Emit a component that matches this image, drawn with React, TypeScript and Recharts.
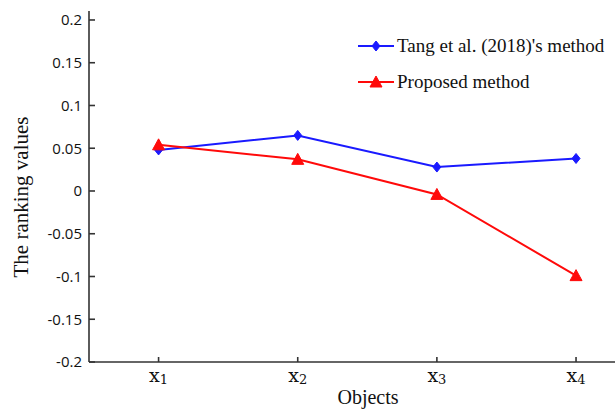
import { LineChart, Line, XAxis, YAxis, Legend } from "recharts";

const objects = ["1", "2", "3", "4"];
const tangValues = [0.048, 0.065, 0.028, 0.038];
const proposedValues = [0.054, 0.037, -0.004, -0.099];
const yTicks = [-0.2, -0.15, -0.1, -0.05, 0, 0.05, 0.1, 0.15, 0.2];

const data = objects.map((o, i) => ({ x: i + 1, name: o, tang: tangValues[i], proposed: proposedValues[i] }));

const BLUE = "#1a1aff";
const RED = "#ff0a0a";
const AXIS = "#333";

function Diamond({ cx, cy, color }: { cx: number; cy: number; color: string }) {
  return <path d={`M${cx},${cy - 5}L${cx + 4},${cy}L${cx},${cy + 5}L${cx - 4},${cy}Z`} fill={color} stroke={color} />;
}

function Triangle({ cx, cy, color }: { cx: number; cy: number; color: string }) {
  return <path d={`M${cx},${cy - 6}L${cx + 6},${cy + 5}L${cx - 6},${cy + 5}Z`} fill={color} stroke={color} />;
}

const XTick = ({ x, y, payload }: any) => (
  <text x={x} y={y} textAnchor="middle" fontFamily="DejaVu Serif" fill="#111">
    <tspan fontSize={19} dy={19}>x</tspan>
    <tspan fontSize={13} dy={2}>{objects[payload.value - 1]}</tspan>
  </text>
);

const LegendBox = () => (
  <div style={{ fontFamily: "Liberation Serif", fontSize: 19, color: "#111" }}>
    {[
      { label: "Tang et al. (2018)'s method", color: BLUE, shape: "d" },
      { label: "Proposed method", color: RED, shape: "t" },
    ].map((it) => (
      <div key={it.label} style={{ display: "flex", alignItems: "center", height: 36 }}>
        <svg width={42} height={20}>
          <line x1={3} x2={39} y1={10} y2={10} stroke={it.color} strokeWidth={2} />
          {it.shape === "d" ? <Diamond cx={21} cy={10} color={it.color} /> : <Triangle cx={21} cy={10} color={it.color} />}
        </svg>
        <span>{it.label}</span>
      </div>
    ))}
  </div>
);

export default function App() {
  return (
    <div style={{ position: "fixed", left: 0, top: 0, width: 615, height: 411, background: "#fff" }}>
      <LineChart width={615} height={411} data={data} margin={{ top: 11, right: 0, left: 0, bottom: 0 }}>
        <XAxis
          dataKey="x"
          type="number"
          domain={[0.5, 4.28]}
          ticks={[1, 2, 3, 4]}
          allowDataOverflow
          height={49}
          tickSize={-5}
          tickMargin={6}
          stroke={AXIS}
          strokeWidth={1.6}
          tick={<XTick />}
          label={() => (
            <text x={368} y={404} textAnchor="middle" fontFamily="Liberation Serif" fontSize={20} fill="#111">
              Objects
            </text>
          )}
        />
        <YAxis
          type="number"
          domain={[-0.2, 0.2105]}
          ticks={yTicks}
          allowDataOverflow
          width={89}
          tickSize={-6}
          tickMargin={13}
          stroke={AXIS}
          strokeWidth={1.6}
          tick={{ fill: "#111", fontFamily: "Open Sans", fontSize: 15 }}
          tickFormatter={(v: number) => String(v)}
          label={() => (
            <text
              x={0}
              y={0}
              transform="translate(28,197) rotate(-90)"
              textAnchor="middle"
              fontFamily="Liberation Serif"
              fontSize={21}
              fill="#111"
            >
              The ranking values
            </text>
          )}
        />
        <Legend
          content={<LegendBox />}
          layout="vertical"
          align="center"
          verticalAlign="middle"
          wrapperStyle={{ position: "absolute", top: 28, left: 355, width: 260 }}
        />
        <Line
          dataKey="tang"
          name="Tang et al. (2018)'s method"
          stroke={BLUE}
          strokeWidth={2}
          isAnimationActive={false}
          dot={(p: any) => <Diamond key={p.index} cx={p.cx} cy={p.cy} color={BLUE} />}
        />
        <Line
          dataKey="proposed"
          name="Proposed method"
          stroke={RED}
          strokeWidth={2}
          isAnimationActive={false}
          dot={(p: any) => <Triangle key={p.index} cx={p.cx} cy={p.cy} color={RED} />}
        />
      </LineChart>
    </div>
  );
}
